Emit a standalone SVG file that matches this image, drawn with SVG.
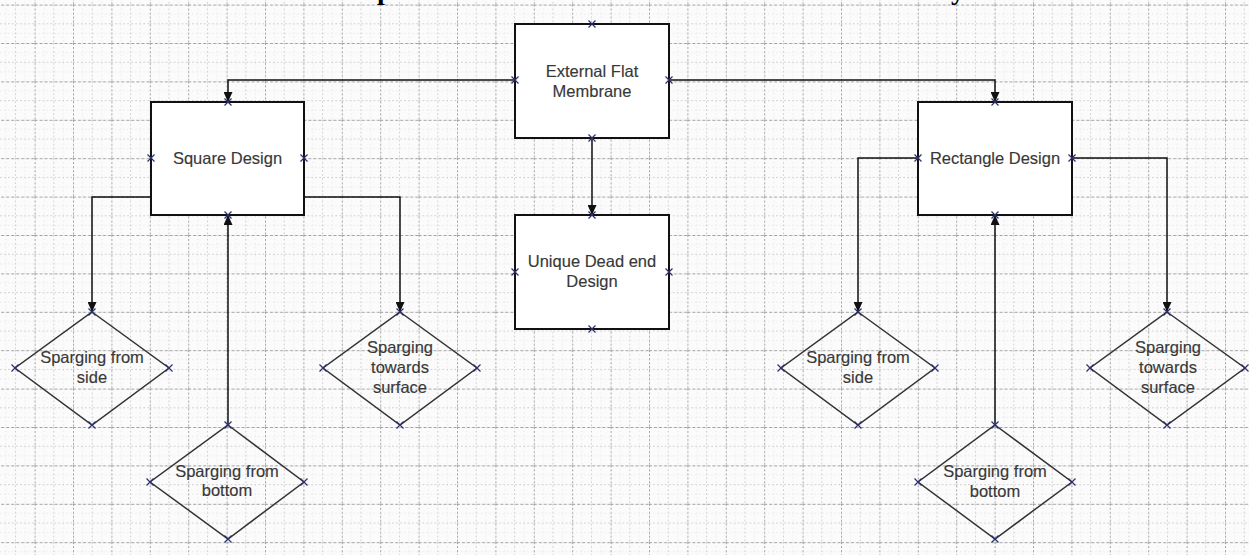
<svg xmlns="http://www.w3.org/2000/svg" xmlns:xlink="http://www.w3.org/1999/xlink" width="1249" height="555" viewBox="0 0 1249 555">
<defs>
<style>
.box{fill:#fff;stroke:#111;stroke-width:2}
.dia{fill:none;stroke:#333;stroke-width:1.5}
.lbl{font-family:"Liberation Sans",Arial,sans-serif;font-size:16.5px;fill:#383838;stroke:#383838;stroke-width:0.15;text-anchor:middle}
.ttl{font-family:"Liberation Serif","Times New Roman",serif;font-size:28px;font-weight:bold;fill:#000}
.con{fill:none;stroke:#111;stroke-width:1.5;marker-end:url(#arr)}
.xm{stroke:#2b3070;stroke-width:1.2;fill:none}
</style>
<pattern id="grid" x="34.6" y="4.6" width="38.4" height="38.4" patternUnits="userSpaceOnUse">
<rect width="38.4" height="38.4" fill="#fbfbfb"/>
<path d="M0,19.2 H38.4 M19.2,0 V38.4" stroke="#c6c6c6" stroke-width="1" stroke-dasharray="1.5,2.5"/>
<path d="M0,9.6 H38.4 M0,28.8 H38.4 M9.6,0 V38.4 M28.8,0 V38.4" stroke="#e2e2e2" stroke-width="1" stroke-dasharray="1,3"/>
<path d="M0,0.5 H38.4" stroke="#a0a0a0" stroke-width="1" stroke-dasharray="3,2"/>
<path d="M0.5,0 V38.4" stroke="#a0a0a0" stroke-width="1" stroke-dasharray="2,2"/>
</pattern>
<marker id="arr" viewBox="0 0 10 9" refX="10" refY="4.5" markerWidth="10" markerHeight="9" markerUnits="userSpaceOnUse" orient="auto">
<path d="M0,0 L10,4.5 L0,9 z" fill="#111"/>
</marker>
<path id="x" class="xm" d="M-3.5,-3.5 L3.5,3.5 M-3.5,3.5 L3.5,-3.5"/>
</defs>
<rect width="1249" height="555" fill="url(#grid)"/>
<g id="title">
<text class="ttl" x="377" y="-1">p</text>
<text class="ttl" x="951" y="-1">y</text>
</g>
<g id="connectors">
<path class="con" d="M515,80 H228 V102"/>
<path class="con" d="M669,80 H995 V102"/>
<path class="con" d="M592,138 V215"/>
<path class="con" d="M151,197 H92 V312"/>
<path class="con" d="M304,197 H400 V312"/>
<path class="con" d="M228,425 V215"/>
<path class="con" d="M918,158 H858 V312"/>
<path class="con" d="M1072,158 H1167 V312"/>
<path class="con" d="M995,425 V215"/>
</g>
<g id="n-external">
<rect class="box" x="515" y="24" width="154" height="114"/>
<text class="lbl" x="592" y="77">External Flat</text>
<text class="lbl" x="592" y="97">Membrane</text>
<use href="#x" x="592" y="24"/><use href="#x" x="515" y="80"/><use href="#x" x="669" y="80"/><use href="#x" x="592" y="138"/>
</g>
<g id="n-square">
<rect class="box" x="151" y="102" width="153" height="113"/>
<text class="lbl" x="227.5" y="164">Square Design</text>
<use href="#x" x="228" y="102"/><use href="#x" x="151" y="158"/><use href="#x" x="304" y="158"/><use href="#x" x="228" y="215"/>
</g>
<g id="n-rectangle">
<rect class="box" x="918" y="102" width="154" height="113"/>
<text class="lbl" x="995" y="164">Rectangle Design</text>
<use href="#x" x="995" y="102"/><use href="#x" x="918" y="158"/><use href="#x" x="1072" y="158"/><use href="#x" x="995" y="215"/>
</g>
<g id="n-unique">
<rect class="box" x="515" y="215" width="154" height="114"/>
<text class="lbl" x="592" y="267">Unique Dead end</text>
<text class="lbl" x="592" y="287">Design</text>
<use href="#x" x="592" y="215"/><use href="#x" x="515" y="272"/><use href="#x" x="669" y="272"/><use href="#x" x="592" y="329"/>
</g>
<g id="d-side-left">
<path class="dia" d="M92,312 L169,368 L92,425 L15,368 Z"/>
<text class="lbl" x="92" y="363">Sparging from</text>
<text class="lbl" x="92" y="383">side</text>
<use href="#x" x="92" y="312"/><use href="#x" x="169" y="368"/><use href="#x" x="92" y="425"/><use href="#x" x="15" y="368"/>
</g>
<g id="d-surface-left">
<path class="dia" d="M400,312 L477,368 L400,425 L323,368 Z"/>
<text class="lbl" x="400" y="353">Sparging</text>
<text class="lbl" x="400" y="373">towards</text>
<text class="lbl" x="400" y="393">surface</text>
<use href="#x" x="400" y="312"/><use href="#x" x="477" y="368"/><use href="#x" x="400" y="425"/><use href="#x" x="323" y="368"/>
</g>
<g id="d-bottom-left">
<path class="dia" d="M228,425 L304,482 L228,539 L150,482 Z"/>
<text class="lbl" x="227" y="477">Sparging from</text>
<text class="lbl" x="227" y="496">bottom</text>
<use href="#x" x="228" y="425"/><use href="#x" x="304" y="482"/><use href="#x" x="228" y="539"/><use href="#x" x="150" y="482"/>
</g>
<g id="d-side-right">
<path class="dia" d="M858,312 L935,368 L858,425 L781,368 Z"/>
<text class="lbl" x="858" y="363">Sparging from</text>
<text class="lbl" x="858" y="383">side</text>
<use href="#x" x="858" y="312"/><use href="#x" x="935" y="368"/><use href="#x" x="858" y="425"/><use href="#x" x="781" y="368"/>
</g>
<g id="d-surface-right">
<path class="dia" d="M1167,312 L1245,368 L1167,425 L1090,368 Z"/>
<text class="lbl" x="1168" y="353">Sparging</text>
<text class="lbl" x="1168" y="373">towards</text>
<text class="lbl" x="1168" y="393">surface</text>
<use href="#x" x="1167" y="312"/><use href="#x" x="1245" y="368"/><use href="#x" x="1167" y="425"/><use href="#x" x="1090" y="368"/>
</g>
<g id="d-bottom-right">
<path class="dia" d="M995,425 L1072,482 L995,539 L918,482 Z"/>
<text class="lbl" x="995" y="477">Sparging from</text>
<text class="lbl" x="995" y="497">bottom</text>
<use href="#x" x="995" y="425"/><use href="#x" x="1072" y="482"/><use href="#x" x="995" y="539"/><use href="#x" x="918" y="482"/>
</g>
</svg>
